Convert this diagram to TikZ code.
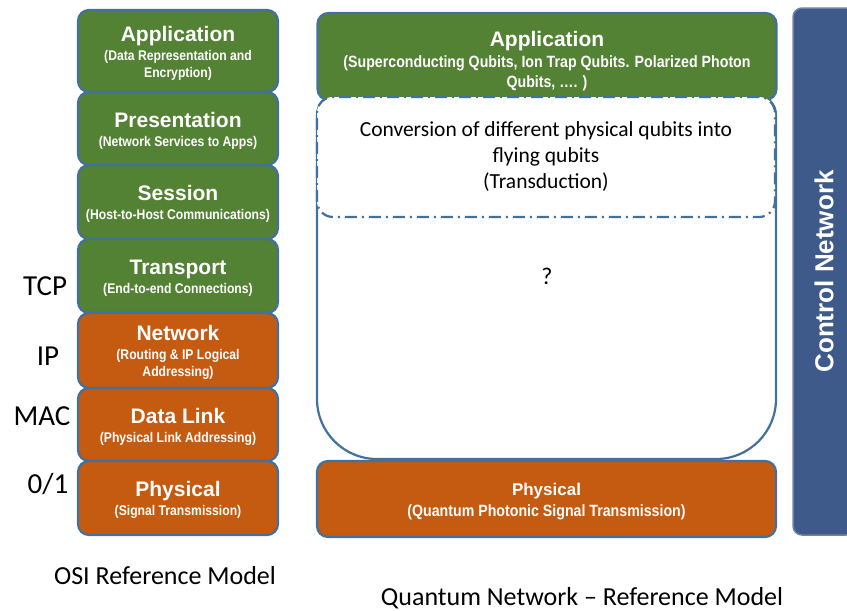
\documentclass[tikz,border=0pt]{standalone}
\usepackage{fontspec}
\setmainfont{Carlito}
\setsansfont{Liberation Sans}
\newfontfamily\narrowsans[FakeStretch=0.87]{Liberation Sans}
\usepackage{xcolor}

\definecolor{layergreen}{HTML}{548235}
\definecolor{layerorange}{HTML}{C55A11}
\definecolor{edgeblue}{HTML}{41719C}
\definecolor{ctrlblue}{HTML}{3E5A8A}

\newcommand\layertitle{\sffamily\bfseries\fontsize{21}{24}\selectfont\rule{0pt}{19.5pt}}
\newcommand\smalltitle{\sffamily\bfseries\fontsize{17}{20}\selectfont\rule{0pt}{16.5pt}}

\tikzset{
  layer/.style={draw=edgeblue, line width=2.2pt, rounded corners=11pt,
    text=white, align=center, inner sep=0pt},
  osilayer/.style={layer, minimum width=200pt,
    font=\narrowsans\bfseries\fontsize{14}{17}\selectfont},
  qlayer/.style={layer, minimum width=459pt,
    font=\narrowsans\bfseries\fontsize{16.3}{20}\selectfont},
  sidelabel/.style={font=\fontsize{29}{31}\selectfont, inner sep=0pt},
  caption/.style={font=\fontsize{26}{28}\selectfont, inner sep=0pt},
}

\begin{document}
\begin{tikzpicture}[x=1pt,y=-1pt]
  \useasboundingbox (0,0) rectangle (847,611);

  % OSI stack
  \node[osilayer, fill=layergreen, minimum height=82pt] (osiapp) at (178,51)
    {{\layertitle Application}\\[2pt] (Data Representation and\\ Encryption)};
  \node[osilayer, fill=layergreen, minimum height=73pt] (osipres) at (178,128.5)
    {{\layertitle Presentation}\\[2pt] (Network Services to Apps)};
  \node[osilayer, fill=layergreen, minimum height=74pt] (osisess) at (178,202)
    {{\layertitle Session}\\[2pt] (Host-to-Host Communications)};
  \node[osilayer, fill=layergreen, minimum height=74pt] (ositrans) at (178,276)
    {{\layertitle Transport}\\[2pt] (End-to-end Connections)};
  \node[osilayer, fill=layerorange, minimum height=75pt] (osinet) at (178,350.5)
    {{\layertitle Network}\\[2pt] (Routing \& IP Logical\\ Addressing)};
  \node[osilayer, fill=layerorange, minimum height=73pt] (osilink) at (178,424.5)
    {{\layertitle Data Link}\\[2pt] (Physical Link Addressing)};
  \node[osilayer, fill=layerorange, minimum height=74pt] (osiphys) at (178,498)
    {{\layertitle Physical}\\[2pt] (Signal Transmission)};

  \node[sidelabel] (tcp) at (45,286) {TCP};
  \node[sidelabel] (ip) at (48,356) {IP};
  \node[sidelabel] (mac) at (42,416) {MAC};
  \node[sidelabel] (bits) at (48,484) {0/1};

  % quantum stack
  \draw[draw=edgeblue, line width=2.2pt, fill=white]
    (317,250) [rounded corners=20pt] -- (317,95) -- (776,95) -- (776,250)
    [rounded corners=60pt] -- (776,459) -- (317,459) -- (317,250);
  \node[qlayer, fill=layergreen, minimum height=87pt] (qapp) at (547,56.5)
    {{\layertitle\rule{0pt}{24pt}Application}\\[1.5pt] (Superconducting Qubits, Ion Trap Qubits. Polarized Photon\\ Qubits, \dots. )};
  \node[draw=edgeblue, line width=2.2pt, fill=white, rounded corners=16pt,
    dash pattern=on 12pt off 5pt on 2pt off 5pt,
    minimum width=458pt, minimum height=120pt, inner sep=0pt, align=center,
    font=\fontsize{21.5}{26}\selectfont] (transduction) at (546,157)
    {Conversion of different physical qubits into\\ flying qubits\\ (Transduction)};
  \node[font=\fontsize{24}{26}\selectfont, inner sep=0pt] (unknown) at (547,276) {?};
  \node[qlayer, fill=layerorange, minimum height=76pt] (qphys) at (546.5,499)
    {{\smalltitle Physical}\\[1pt] (Quantum Photonic Signal Transmission)};

  % control plane
  \node[draw=ctrlblue!75!white, line width=1.5pt, fill=ctrlblue, rounded corners=9pt,
    rotate=90, minimum width=527pt, minimum height=62pt, inner sep=0pt,
    text=white, font=\sffamily\bfseries\fontsize{26}{28}\selectfont] (ctrl) at (824,271.5)
    {Control Network};

  \node[caption] (osicap) at (165,576) {OSI Reference Model};
  \node[caption] (qcap) at (582,598) {Quantum Network \textendash{} Reference Model};
\end{tikzpicture}
\end{document}
